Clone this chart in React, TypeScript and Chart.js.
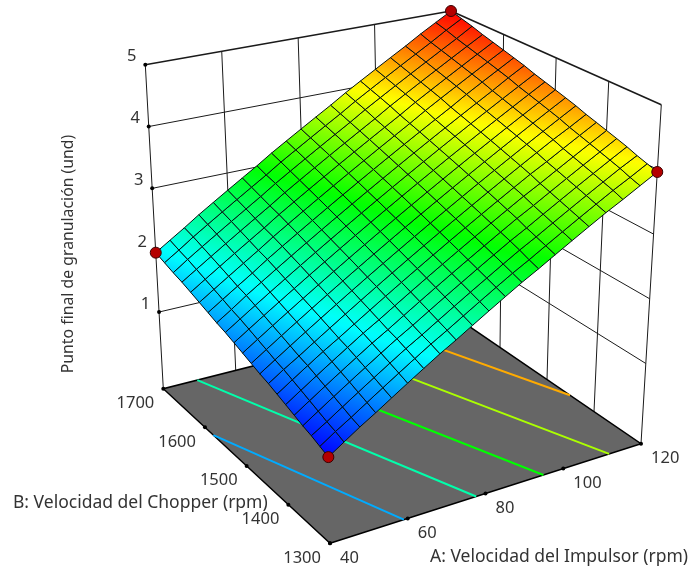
import React, { useEffect, useRef } from "react";
import { Chart, registerables } from "chart.js";

Chart.register(...registerables);

const WIDTH = 696;
const HEIGHT = 569;

// Axis ticks
const aTicks = [40, 60, 80, 100, 120];
const bTicks = [1300, 1400, 1500, 1600, 1700];
const zTicks = [1, 2, 3, 4, 5];
const zFloor = -0.24;
const zTop = 5;

const aTitle = "A: Velocidad del Impulsor (rpm)";
const bTitle = "B: Velocidad del Chopper (rpm)";
const zTitle = "Punto final de granulación (und)";

// Surface: rows follow B (1300 -> 1700), columns follow A (40 -> 120)
const surface = [
  [1.0, 1.15, 1.3, 1.44, 1.59, 1.74, 1.89, 2.04, 2.18, 2.33, 2.48, 2.63, 2.78, 2.92, 3.07, 3.22, 3.37, 3.52, 3.66, 3.81, 3.96],
  [1.05, 1.2, 1.34, 1.49, 1.64, 1.79, 1.94, 2.09, 2.23, 2.38, 2.53, 2.68, 2.83, 2.97, 3.12, 3.27, 3.42, 3.57, 3.72, 3.86, 4.01],
  [1.1, 1.24, 1.39, 1.54, 1.69, 1.84, 1.99, 2.13, 2.28, 2.43, 2.58, 2.73, 2.88, 3.03, 3.17, 3.32, 3.47, 3.62, 3.77, 3.92, 4.06],
  [1.14, 1.29, 1.44, 1.59, 1.74, 1.89, 2.04, 2.18, 2.33, 2.48, 2.63, 2.78, 2.93, 3.08, 3.22, 3.37, 3.52, 3.67, 3.82, 3.97, 4.12],
  [1.19, 1.34, 1.49, 1.64, 1.79, 1.94, 2.08, 2.23, 2.38, 2.53, 2.68, 2.83, 2.98, 3.13, 3.28, 3.42, 3.57, 3.72, 3.87, 4.02, 4.17],
  [1.24, 1.39, 1.54, 1.69, 1.84, 1.99, 2.13, 2.28, 2.43, 2.58, 2.73, 2.88, 3.03, 3.18, 3.33, 3.48, 3.62, 3.77, 3.92, 4.07, 4.22],
  [1.29, 1.44, 1.59, 1.74, 1.88, 2.03, 2.18, 2.33, 2.48, 2.63, 2.78, 2.93, 3.08, 3.23, 3.38, 3.53, 3.68, 3.82, 3.97, 4.12, 4.27],
  [1.34, 1.49, 1.63, 1.78, 1.93, 2.08, 2.23, 2.38, 2.53, 2.68, 2.83, 2.98, 3.13, 3.28, 3.43, 3.58, 3.73, 3.88, 4.03, 4.17, 4.32],
  [1.38, 1.53, 1.68, 1.83, 1.98, 2.13, 2.28, 2.43, 2.58, 2.73, 2.88, 3.03, 3.18, 3.33, 3.48, 3.63, 3.78, 3.93, 4.08, 4.23, 4.38],
  [1.43, 1.58, 1.73, 1.88, 2.03, 2.18, 2.33, 2.48, 2.63, 2.78, 2.93, 3.08, 3.23, 3.38, 3.53, 3.68, 3.83, 3.98, 4.13, 4.28, 4.43],
  [1.48, 1.63, 1.78, 1.93, 2.08, 2.23, 2.38, 2.53, 2.68, 2.83, 2.98, 3.13, 3.28, 3.43, 3.58, 3.73, 3.88, 4.03, 4.18, 4.33, 4.48],
  [1.53, 1.68, 1.83, 1.98, 2.13, 2.28, 2.43, 2.58, 2.73, 2.88, 3.03, 3.18, 3.33, 3.48, 3.63, 3.78, 3.93, 4.08, 4.23, 4.38, 4.53],
  [1.58, 1.73, 1.88, 2.03, 2.18, 2.33, 2.48, 2.63, 2.78, 2.93, 3.08, 3.23, 3.38, 3.53, 3.68, 3.83, 3.98, 4.13, 4.28, 4.43, 4.58],
  [1.62, 1.77, 1.93, 2.08, 2.23, 2.38, 2.53, 2.68, 2.83, 2.98, 3.13, 3.28, 3.43, 3.58, 3.73, 3.88, 4.03, 4.18, 4.33, 4.49, 4.64],
  [1.67, 1.82, 1.97, 2.12, 2.28, 2.43, 2.58, 2.73, 2.88, 3.03, 3.18, 3.33, 3.48, 3.63, 3.78, 3.93, 4.08, 4.24, 4.39, 4.54, 4.69],
  [1.72, 1.87, 2.02, 2.17, 2.32, 2.48, 2.63, 2.78, 2.93, 3.08, 3.23, 3.38, 3.53, 3.68, 3.83, 3.99, 4.14, 4.29, 4.44, 4.59, 4.74],
  [1.77, 1.92, 2.07, 2.22, 2.37, 2.52, 2.68, 2.83, 2.98, 3.13, 3.28, 3.43, 3.58, 3.73, 3.88, 4.04, 4.19, 4.34, 4.49, 4.64, 4.79],
  [1.82, 1.97, 2.12, 2.27, 2.42, 2.57, 2.72, 2.88, 3.03, 3.18, 3.33, 3.48, 3.63, 3.78, 3.94, 4.09, 4.24, 4.39, 4.54, 4.69, 4.84],
  [1.86, 2.02, 2.17, 2.32, 2.47, 2.62, 2.77, 2.93, 3.08, 3.23, 3.38, 3.53, 3.68, 3.84, 3.99, 4.14, 4.29, 4.44, 4.59, 4.74, 4.9],
  [1.91, 2.06, 2.22, 2.37, 2.52, 2.67, 2.82, 2.97, 3.13, 3.28, 3.43, 3.58, 3.73, 3.89, 4.04, 4.19, 4.34, 4.49, 4.64, 4.8, 4.95],
  [1.96, 2.11, 2.26, 2.42, 2.57, 2.72, 2.87, 3.02, 3.18, 3.33, 3.48, 3.63, 3.78, 3.94, 4.09, 4.24, 4.39, 4.54, 4.7, 4.85, 5.0],
];

// Floor contours as A/B end points
const contourLevels = [1.67, 2.33, 3.0, 3.67, 4.33];
const contourStartA = [59, 77.6, 94.9, 111.8, 120];
const contourStartB = [1300, 1300, 1300, 1300, 1451];
const contourEndA = [40, 49.4, 67.2, 85.7, 102.9];
const contourEndB = [1580, 1700, 1700, 1700, 1700];

// Design points (A, B, response)
const designA = [40, 120, 40, 120];
const designB = [1300, 1300, 1700, 1700];
const designZ = [1.0, 3.96, 1.96, 5.0];

// View of the box: corners (A low/B low, A high/B low, A high/B high, A low/B high)
const floorView = [[330, 543.3], [641, 443.7], [453, 315.4], [163.3, 388.7]];
const topView = [[323, 179], [661.3, 104.7], [451, 11], [145.3, 64.7]];

function bilinearView(q: number[][]) {
  return (u: number, v: number) => ({
    x: (1 - v) * ((1 - u) * q[0][0] + u * q[1][0]) + v * ((1 - u) * q[3][0] + u * q[2][0]),
    y: (1 - v) * ((1 - u) * q[0][1] + u * q[1][1]) + v * ((1 - u) * q[3][1] + u * q[2][1]),
  });
}

const floorMap = bilinearView(floorView);
const topMap = bilinearView(topView);

function project(A: number, B: number, z: number) {
  const a = (A - 40) / 80;
  const b = (B - 1300) / 400;
  const c = (z - zFloor) / (zTop - zFloor);
  const p = floorMap(a, b);
  const q = topMap(a, b);
  return { x: p.x + (q.x - p.x) * c, y: p.y + (q.y - p.y) * c };
}

function rainbow(z: number) {
  const t = Math.min(4, Math.max(0, z - 1));
  const s = t - Math.floor(t);
  const k = Math.floor(t);
  const v = Math.round(s * 255);
  const u = 255 - v;
  if (k === 0) return `rgb(0,${v},255)`;
  if (k === 1) return `rgb(0,255,${u})`;
  if (k === 2) return `rgb(${v},255,0)`;
  if (k === 3) return `rgb(255,${u},0)`;
  return "rgb(255,0,0)";
}

const FONT = '"Noto Sans", "Open Sans", sans-serif';
const TEXT = "#333333";

const labelPlugin = {
  id: "axisLabels",
  afterDraw(chart: any) {
    const ctx = chart.ctx;
    const sx = chart.scales.x;
    const sy = chart.scales.y;
    const at = (p: { x: number; y: number }) => ({
      x: sx.getPixelForValue(p.x),
      y: sy.getPixelForValue(p.y),
    });
    ctx.save();
    ctx.fillStyle = TEXT;
    ctx.textBaseline = "middle";
    ctx.font = `16.5px ${FONT}`;
    ctx.textAlign = "center";
    zTicks.forEach((z) => {
      const p = at(project(40, 1700, z));
      ctx.fillText(String(z), p.x - 13.5, p.y - 8);
    });
    ctx.textAlign = "right";
    bTicks.forEach((b) => {
      const p = at(project(40, b, zFloor));
      ctx.fillText(String(b), p.x - 9, p.y + 14.5);
    });
    ctx.textAlign = "left";
    aTicks.forEach((a) => {
      const p = at(project(a, 1300, zFloor));
      ctx.fillText(String(a), p.x + 10, p.y + 14.5);
    });
    ctx.font = `17.5px ${FONT}`;
    ctx.fillText(aTitle, 430, 557);
    ctx.fillText(bTitle, 13, 503);
    ctx.save();
    ctx.font = `15.8px ${FONT}`;
    ctx.translate(68, 254);
    ctx.rotate(-Math.PI / 2);
    ctx.textAlign = "center";
    ctx.fillText(zTitle, 0, 0);
    ctx.restore();
    ctx.restore();
  },
};

export default function App() {
  const ref = useRef<HTMLCanvasElement | null>(null);

  useEffect(() => {
    const canvas = ref.current!;
    const ctx = canvas.getContext("2d")!;
    const layers: any[] = [];
    const line = (pts: { x: number; y: number }[], color: string, width: number) =>
      layers.push({ data: pts, borderColor: color, borderWidth: width, pointRadius: 0, fill: false });

    // floor
    const floorCorners = [
      project(40, 1300, zFloor),
      project(120, 1300, zFloor),
      project(120, 1700, zFloor),
      project(40, 1700, zFloor),
      project(40, 1300, zFloor),
    ];

    // walls
    const wall = "#1a1a1a";
    aTicks.forEach((a) => line([project(a, 1700, zFloor), project(a, 1700, zTop)], wall, 1));
    bTicks.forEach((b) => line([project(120, b, zFloor), project(120, b, zTop)], wall, 1));
    zTicks.forEach((z) => {
      const w = z === zTop ? 1.6 : 1;
      line([project(40, 1700, z), project(120, 1700, z)], wall, w);
      line([project(120, 1700, z), project(120, 1300, z)], wall, w);
    });

    layers.push({
      data: floorCorners,
      borderColor: "#000000",
      borderWidth: 1.5,
      backgroundColor: "#666666",
      pointRadius: 0,
      fill: "shape",
    });

    // contours on the floor
    contourLevels.forEach((lvl, i) => {
      line(
        [
          project(contourStartA[i], contourStartB[i], zFloor),
          project(contourEndA[i], contourEndB[i], zFloor),
        ],
        rainbow(lvl),
        2
      );
    });

    // ticks
    const tickPts = [
      ...aTicks.map((a) => project(a, 1300, zFloor)),
      ...bTicks.map((b) => project(40, b, zFloor)),
      ...zTicks.map((z) => project(40, 1700, z)),
    ];
    layers.push({
      data: tickPts,
      showLine: false,
      pointRadius: 2,
      pointBackgroundColor: "#000000",
      pointBorderWidth: 0,
      fill: false,
    });

    // surface cells
    const rowsN = surface.length;
    const colsN = surface[0].length;
    const Ai = (i: number) => aTicks[0] + ((aTicks[4] - aTicks[0]) * i) / (colsN - 1);
    const Bj = (j: number) => bTicks[0] + ((bTicks[4] - bTicks[0]) * j) / (rowsN - 1);
    for (let j = 0; j < rowsN - 1; j++) {
      for (let i = 0; i < colsN - 1; i++) {
        const z00 = surface[j][i];
        const z10 = surface[j][i + 1];
        const z01 = surface[j + 1][i];
        const z11 = surface[j + 1][i + 1];
        const p00 = project(Ai(i), Bj(j), z00);
        const p10 = project(Ai(i + 1), Bj(j), z10);
        const p01 = project(Ai(i), Bj(j + 1), z01);
        const p11 = project(Ai(i + 1), Bj(j + 1), z11);
        const ux = p10.x - p00.x, uy = p10.y - p00.y;
        const vx = p01.x - p00.x, vy = p01.y - p00.y;
        const du = z10 - z00, dv = z01 - z00;
        const det = ux * vy - uy * vx;
        const gx = (du * vy - dv * uy) / det;
        const gy = (ux * dv - vx * du) / det;
        const g2 = gx * gx + gy * gy;
        const dz = z11 - z00;
        const grad = ctx.createLinearGradient(
          p00.x, p00.y,
          p00.x + (gx * dz) / g2, p00.y + (gy * dz) / g2
        );
        for (let s = 0; s <= 4; s++) grad.addColorStop(s / 4, rainbow(z00 + (dz * s) / 4));
        layers.push({
          data: [p00, p10, p11, p01, p00],
          borderColor: "#001010",
          borderWidth: 1,
          backgroundColor: grad,
          pointRadius: 0,
          fill: "shape",
        });
      }
    }

    // design points
    layers.push({
      data: designA.map((a, i) => project(a, designB[i], designZ[i])),
      showLine: false,
      pointRadius: 5.5,
      pointBackgroundColor: "#b40000",
      pointBorderColor: "#3a0000",
      pointBorderWidth: 1,
      fill: false,
      clip: false,
    });

    const chart = new Chart(canvas, {
      type: "line",
      data: { datasets: layers.slice().reverse() },
      plugins: [labelPlugin],
      options: {
        animation: false,
        responsive: false,
        events: [],
        layout: { padding: 0, autoPadding: false },
        elements: { line: { tension: 0 } },
        plugins: { legend: { display: false }, tooltip: { enabled: false }, title: { display: false } },
        scales: {
          x: { type: "linear", display: false, min: 0, max: WIDTH },
          y: { type: "linear", display: false, min: 0, max: HEIGHT, reverse: true },
        },
      },
    } as any);
    return () => chart.destroy();
  }, []);

  return (
    <div style={{ position: "fixed", left: 0, top: 0, width: WIDTH, height: HEIGHT, background: "#fff" }}>
      <canvas ref={ref} width={WIDTH} height={HEIGHT} style={{ display: "block" }} />
    </div>
  );
}
